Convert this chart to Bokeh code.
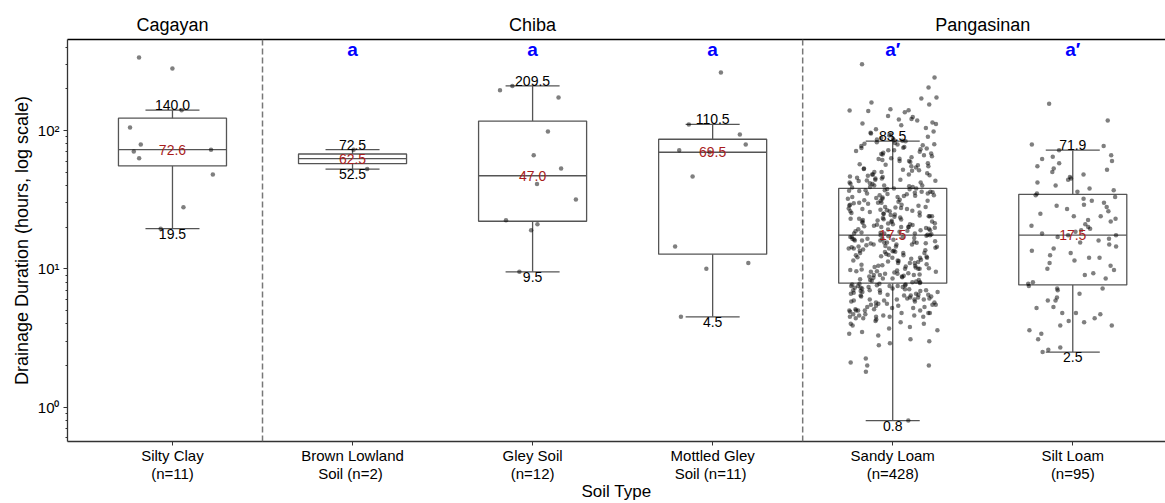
import numpy as np
from bokeh.plotting import figure
from bokeh.models import Span, LinearAxis, FixedTicker, Range1d, ColumnDataSource
from bokeh.core.properties import value
from bokeh.embed import file_html
from bokeh.resources import INLINE

# ---------------- data ----------------
CATEGORIES = ["Silty Clay", "Brown Lowland Soil", "Gley Soil",
              "Mottled Gley Soil", "Sandy Loam", "Silt Loam"]
NAME_LINE1 = ["Silty Clay", "Brown Lowland", "Gley Soil", "Mottled Gley", "Sandy Loam", "Silt Loam"]
NAME_LINE2 = ["", "Soil", "", "Soil", "", ""]
REGIONS = ["Cagayan", "Chiba", "Chiba", "Chiba", "Pangasinan", "Pangasinan"]
LETTERS = ["", "a", "a", "a", "a\u2032", "a\u2032"]

silty_clay = [336, 280, 140, 105, 79, 72.6, 70.5, 62.8, 48, 27.8, 19.5]
brown_lowland = [72.5, 52.5]
gley_soil = [209.5, 195, 173, 98, 66, 53, 41, 31.7, 22.4, 21, 19, 9.5]
mottled_gley = [262, 110.5, 93.5, 79, 72, 69.5, 46.5, 14.5, 11, 10, 4.5]

sandy_loam = [
    # lowest quarter
    0.8, 1.8, 2.0, 2.0, 2.1, 2.25,
    2.8, 2.9, 3.0, 3.1, 3.3, 3.4, 3.5, 3.6,
    3.7, 3.8, 3.9, 4.0, 4.0, 4.1, 4.2, 4.3,
    4.4, 4.4, 4.5, 4.5, 4.5, 4.6, 4.6, 4.7, 4.7, 4.8, 4.8, 4.9, 5.0, 5.0, 5.0, 5.0, 5.1, 5.2, 5.2,
    5.3, 5.3, 5.4, 5.5, 5.5, 5.5, 5.6, 5.6, 5.7, 5.8, 5.8, 5.9, 5.9, 6.0, 6.0, 6.0,
    6.0, 6.1, 6.2, 6.2, 6.3, 6.3, 6.4, 6.4, 6.5, 6.5, 6.5, 6.6, 6.6, 6.7, 6.8, 6.8, 6.9, 7.0, 7.0,
    7.0, 7.0, 7.1, 7.2, 7.2, 7.3, 7.4, 7.4, 7.5, 7.5, 7.5, 7.6, 7.6, 7.7, 7.8, 7.8,
    4.5, 4.6, 4.8, 5.0, 5.1, 5.4, 5.7, 6.1, 6.4, 6.7, 6.9, 7.1, 7.3, 7.5, 7.7,
    # second quarter
    7.9, 8.0, 8.0, 8.1, 8.2, 8.3, 8.3, 8.4, 8.5, 8.5,
    8.6, 8.7, 8.8, 8.8, 8.9, 9.0, 9.0, 9.0, 9.1, 9.2,
    9.2, 9.3, 9.4, 9.5, 9.5, 9.6, 9.6, 9.7, 9.8, 9.9,
    10.0, 10.0, 10.0, 10.1, 10.2, 10.3, 10.4, 10.5, 10.5, 10.6,
    10.7, 10.8, 11.0, 11.0, 11.0, 11.2, 11.3, 11.4, 11.5, 11.5,
    11.6, 11.8, 12.0, 12.0, 12.0, 12.1, 12.2, 12.3, 12.5, 12.5,
    12.6, 12.8, 13.0, 13.0, 13.0, 13.2, 13.3, 13.4, 13.5, 13.5,
    13.6, 13.8, 14.0, 14.0, 14.0, 14.2, 14.3, 14.4, 14.5, 14.5,
    14.6, 14.8, 15.0, 15.0, 15.0, 15.2, 15.3, 15.4, 15.5, 15.5,
    15.6, 15.8, 16.0, 16.0, 16.0, 16.2, 16.3, 16.4, 16.5, 16.5,
    16.7, 16.8, 17.0, 17.0, 17.2, 17.3, 17.5,
    # third quarter
    17.5, 17.6, 17.8, 18.0, 18.0, 18.2, 18.3, 18.5, 18.7, 18.8,
    19.0, 19.0, 19.2, 19.3, 19.5, 19.7, 19.8, 20.0, 20.0, 20.0,
    20.3, 20.5, 20.7, 20.8, 21.0, 21.0, 21.2, 21.3, 21.5, 21.8,
    22.0, 22.0, 22.2, 22.3, 22.5, 22.7, 22.8, 23.0, 23.0, 23.3,
    23.5, 23.8, 24.0, 24.0, 24.0, 24.3, 24.5, 24.7, 25.0, 25.0,
    25.3, 25.5, 25.7, 26.0, 26.0, 26.3, 26.5, 26.7, 27.0, 27.0,
    27.3, 27.5, 27.7, 28.0, 28.0, 28.5, 28.7, 29.0, 29.0, 29.5,
    29.7, 30.0, 30.0, 30.0, 30.5, 31.0, 31.0, 31.3, 31.5, 32.0,
    32.0, 32.5, 32.7, 33.0, 33.0, 33.5, 33.7, 34.0, 34.0, 34.5,
    34.7, 35.0, 35.0, 35.5, 35.7, 36.0, 36.0, 36.5, 36.7, 37.0,
    37.0, 37.5, 37.7, 38.0, 38.0, 18.0, 20.0,
    # top quarter
    38.6, 39.0, 39.0, 39.5, 40.0, 40.0, 40.0, 41.0, 41.2, 41.5,
    42.0, 42.0, 43.0, 43.2, 43.5, 44.0, 44.0, 45.0, 45.0, 45.5,
    46.0, 46.5, 47.0, 47.5, 48.0, 48.0, 48.0, 49.0, 50.0, 50.0,
    51.0, 51.5, 52.0, 52.5, 53.0, 54.0, 55.0, 55.0, 56.0, 56.5,
    57.0, 58.0, 59.0, 60.0, 60.0, 61.0, 62.0, 62.5, 63.0, 64.0,
    65.0, 66.0, 67.0, 67.5, 68.0, 69.0, 70.0, 71.0, 72.0, 72.0,
    73.0, 74.0, 74.5, 75.0, 76.0, 77.0, 78.0, 79.0, 79.5, 80.0,
    81.0, 82.0, 83.5,
    84, 85, 86, 87, 88, 90, 92, 93, 95, 96,
    98, 102, 104, 109, 111, 112, 114, 118, 120, 121,
    125, 127, 135, 138, 139, 140, 142, 154, 159, 170,
    173, 204, 241, 300,
]

silt_loam = [
    2.5, 2.6, 2.7, 3.1, 3.4, 3.6, 3.9, 3.9, 4.1, 4.2,
    4.4, 4.7, 4.8, 4.8, 5.2, 5.3, 5.9, 5.9, 6.2, 6.6,
    7.0, 7.2, 7.2, 7.5,
    7.8, 8.0, 8.5, 9.0, 9.3, 9.8, 10.0, 10.5, 11.0, 11.5,
    12.0, 12.0, 12.5, 13.0, 13.5, 14.0, 14.5, 15.0, 15.5, 16.0,
    16.5, 17.0, 17.5, 17.5,
    18.0, 18.5, 19.0, 19.5, 20.0, 20.5, 21.0, 22.0, 22.5, 23.0,
    24.0, 24.0, 25.0, 26.0, 27.0, 28.0, 28.5, 29.0, 30.0, 31.0,
    32.0, 33.0, 34.0,
    35, 36, 37, 38, 40, 42, 44, 45, 46, 48,
    50, 52, 53, 55, 58, 60, 62, 64.6, 66, 71.9,
    77, 79, 118, 156,
]

assert len(sandy_loam) == 428, len(sandy_loam)
assert len(silt_loam) == 95, len(silt_loam)

GROUPS = [silty_clay, brown_lowland, gley_soil, mottled_gley, sandy_loam, silt_loam]

# ---------------- stats ----------------
FONT = value("Liberation Sans")
xs, q1s, meds, q3s, los, his = [], [], [], [], [], []
for i, g in enumerate(GROUPS):
    a = np.array(g, dtype=float)
    q1, med, q3 = np.percentile(a, [25, 50, 75])
    iqr = q3 - q1
    hi = a[a <= q3 + 1.5 * iqr].max()
    lo = a[a >= q1 - 1.5 * iqr].min()
    xs.append(i); q1s.append(q1); meds.append(med); q3s.append(q3)
    los.append(lo); his.append(hi)

BOX_HALF = 0.3
CAP_HALF = 0.15
JIT = 0.25

p = figure(width=1165, height=503,
           x_range=Range1d(-0.583, 5.515), y_range=Range1d(0.565, 453.6),
           y_axis_type="log", output_backend="svg", toolbar_location=None,
           min_border_left=67, min_border_right=0, min_border_top=39,
           min_border_bottom=62)
p.outline_line_color = None
p.grid.visible = False
p.background_fill_color = "white"

# separators between regions
for i in range(1, len(REGIONS)):
    if REGIONS[i] != REGIONS[i - 1]:
        p.add_layout(Span(location=i - 0.5, dimension="height", line_color="#777777",
                          line_width=1.5, line_dash="6 3"))

LC = "#555555"
box_src = ColumnDataSource(dict(
    left=[x - BOX_HALF for x in xs], right=[x + BOX_HALF for x in xs],
    q1=q1s, q3=q3s, med=meds, lo=los, hi=his, x=xs,
    cl=[x - CAP_HALF for x in xs], cr=[x + CAP_HALF for x in xs],
))
p.quad(left="left", right="right", bottom="q1", top="q3", source=box_src,
       fill_color=None, line_color=LC, line_width=1.3)
p.segment(x0="left", x1="right", y0="med", y1="med", source=box_src, line_color=LC, line_width=1.3)
p.segment(x0="x", x1="x", y0="q3", y1="hi", source=box_src, line_color=LC, line_width=1.3)
p.segment(x0="x", x1="x", y0="q1", y1="lo", source=box_src, line_color=LC, line_width=1.3)
p.segment(x0="cl", x1="cr", y0="hi", y1="hi", source=box_src, line_color=LC, line_width=1.3)
p.segment(x0="cl", x1="cr", y0="lo", y1="lo", source=box_src, line_color=LC, line_width=1.3)

# jittered points (horizontal jitter only; seeded so the layout is reproducible)
rng = np.random.default_rng(11)
px, py = [], []
for i, g in enumerate(GROUPS):
    offs = rng.uniform(-JIT, JIT, len(g))
    px.extend(i + offs)
    py.extend(g)
p.scatter(px, py, size=4.5, fill_color="black", fill_alpha=0.5, line_color=None)

# labels
fmt = lambda v: f"{v:.1f}"
p.text(x=xs, y=his, text=[fmt(v) for v in his], text_align="center", text_baseline="bottom",
       text_font=FONT, text_font_size="14px", text_color="black")
p.text(x=xs, y=los, text=[fmt(v) for v in los], text_align="center", text_baseline="top",
       text_font=FONT, text_font_size="14px", text_color="black")
p.text(x=xs, y=meds, text=[fmt(v) for v in meds], text_align="center", text_baseline="middle",
       text_font=FONT, text_font_size="14px", text_color="#a81c1c")
LETTER_Y = 385
p.text(x=xs, y=[LETTER_Y] * len(xs), text=LETTERS, text_align="center", text_baseline="middle",
       text_font=FONT, text_font_size="19px", text_font_style="bold", text_color="#0000ff")


def style(ax, size="15px"):
    ax.axis_line_color = "#333333"
    ax.axis_line_width = 1.3
    ax.major_tick_line_color = "#333333"
    ax.minor_tick_line_color = "#333333"
    ax.major_tick_in = 0
    ax.major_tick_out = 4
    ax.minor_tick_in = 0
    ax.minor_tick_out = 2
    ax.major_label_text_font = "Liberation Sans"
    ax.major_label_text_font_size = size
    ax.major_label_text_color = "black"
    ax.axis_label_text_font = "Liberation Sans"
    ax.axis_label_text_font_style = "normal"
    ax.axis_label_text_color = "black"


# bottom axis: first line of category names
xa = p.xaxis[0]
style(xa)
xa.ticker = FixedTicker(ticks=xs)
xa.major_label_overrides = {i: t for i, t in enumerate(NAME_LINE1)}
xa.minor_tick_out = 0
xa.major_label_standoff = 1

# second bottom axis: second line with counts
line2 = {}
for i, (l2, g) in enumerate(zip(NAME_LINE2, GROUPS)):
    line2[i] = (l2 + "  " if l2 else "") + f"(n={len(g)})"
xb = LinearAxis(ticker=FixedTicker(ticks=xs), major_label_overrides=line2)
style(xb)
xb.axis_line_color = None
xb.major_tick_out = 0
xb.minor_tick_out = 0
xb.major_label_standoff = -2
xb.axis_label = "Soil Type"
xb.axis_label_text_font_size = "17px"
xb.axis_label_standoff = -3
p.add_layout(xb, "below")

ya = p.yaxis[0]
style(ya)
ya.major_label_overrides = {1: "10\u2070", 10: "10\u00b9", 100: "10\u00b2"}
ya.axis_label = "Drainage Duration (hours, log scale)"
ya.axis_label_text_font_size = "18px"
ya.axis_label_standoff = 3
ya.major_label_standoff = 4

# region titles on top
reg_pos = {}
for i, r in enumerate(REGIONS):
    reg_pos.setdefault(r, []).append(i)
top_ticks = [float(np.mean(v)) for v in reg_pos.values()]
top = LinearAxis(ticker=FixedTicker(ticks=top_ticks),
                 major_label_overrides={t: r for t, r in zip(top_ticks, reg_pos.keys())},
                 major_tick_in=0, major_tick_out=0, minor_tick_in=0, minor_tick_out=0,
                 axis_line_color="black", axis_line_width=1.3,
                 major_label_text_font="Liberation Sans", major_label_text_font_size="18px",
                 major_label_text_color="black", major_label_standoff=5)
p.add_layout(top, "above")

open("out.html", "w").write(file_html(p, INLINE))
